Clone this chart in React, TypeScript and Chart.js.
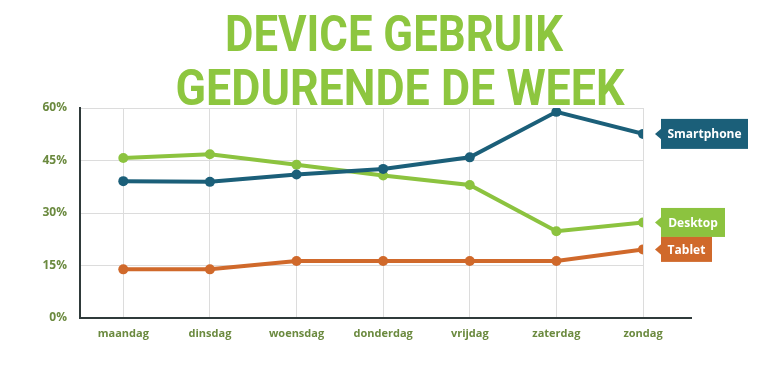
import React, { useEffect, useRef } from "react";
import { Chart, registerables } from "chart.js";

Chart.register(...registerables);

const titleLines = ["DEVICE GEBRUIK", "GEDURENDE DE WEEK"];
const days = ["maandag", "dinsdag", "woensdag", "donderdag", "vrijdag", "zaterdag", "zondag"];
const seriesNames = ["Smartphone", "Desktop", "Tablet"];
const smartphone = [39.1, 38.9, 41.0, 42.6, 45.9, 58.9, 52.6];
const desktop = [45.7, 46.8, 43.8, 40.7, 38.0, 24.8, 27.3];
const tablet = [13.9, 13.9, 16.3, 16.3, 16.3, 16.3, 19.6];
const yTicks = [0, 15, 30, 45, 60];

const COLORS = ["#1b5f79", "#8cc33f", "#d0692b"];
const BOX_W = [87, 64, 51];
const BOX_H = [30, 29, 25];
const LABEL_COLOR = "#6b8a3f";
const FONT = "'Open Sans', Roboto, sans-serif";

const decorPlugin = {
  id: "decor",
  afterDraw(chart: any) {
    const ctx = chart.ctx;
    const area = chart.chartArea;
    // title
    ctx.save();
    ctx.fillStyle = "#8dc63f";
    ctx.font = `bold 50px Roboto, sans-serif`;
    ctx.textBaseline = "alphabetic";
    ctx.textAlign = "left";
    const targets = [
      { w: 338, cx: 394, base: 51 },
      { w: 449, cx: 400, base: 105 },
    ];
    titleLines.forEach((t, i) => {
      const m = ctx.measureText(t).width;
      const sx = targets[i].w / m;
      ctx.save();
      ctx.translate(targets[i].cx - targets[i].w / 2, targets[i].base);
      ctx.scale(sx, 1);
      ctx.fillText(t, 0, 0);
      ctx.restore();
    });
    ctx.restore();

    // x axis extension
    ctx.save();
    ctx.strokeStyle = "#2f3a3a";
    ctx.lineWidth = 2;
    ctx.beginPath();
    ctx.moveTo(area.right - 1, area.bottom);
    ctx.lineTo(692, area.bottom);
    ctx.stroke();
    ctx.restore();

    // series labels
    chart.data.datasets.forEach((ds: any, i: number) => {
      const meta = chart.getDatasetMeta(i);
      const pt = meta.data[meta.data.length - 1];
      const left = pt.x + 18;
      const cy = pt.y;
      const h = BOX_H[i];
      const w = BOX_W[i];
      ctx.save();
      ctx.fillStyle = COLORS[i];
      ctx.fillRect(left, cy - h / 2, w, h);
      ctx.beginPath();
      ctx.moveTo(left + 1, cy - 6);
      ctx.lineTo(left - 6, cy);
      ctx.lineTo(left + 1, cy + 6);
      ctx.closePath();
      ctx.fill();
      ctx.fillStyle = "#ffffff";
      ctx.font = `bold 12px ${FONT}`;
      ctx.textAlign = "center";
      ctx.textBaseline = "middle";
      ctx.fillText(ds.label, left + w / 2, cy + 1);
      ctx.restore();
    });
  },
};

export default function App() {
  const ref = useRef<HTMLCanvasElement>(null);
  useEffect(() => {
    document.body.style.margin = "0";
    const seriesData = [smartphone, desktop, tablet];
    const chart = new Chart(ref.current!, {
      type: "line",
      data: {
        datasets: seriesData.map((arr, i) => ({
          label: seriesNames[i],
          data: arr.map((v, j) => ({ x: j, y: v })),
          borderColor: COLORS[i],
          backgroundColor: COLORS[i],
          pointBackgroundColor: COLORS[i],
          pointBorderColor: COLORS[i],
          borderWidth: 4,
          pointRadius: 5,
          pointBorderWidth: 0,
          tension: 0,
        })),
      },
      options: {
        animation: false,
        responsive: false,
        layout: { padding: { top: 108, right: 127, left: 0, bottom: 0 } },
        plugins: { legend: { display: false }, tooltip: { enabled: false }, title: { display: false } },
        scales: {
          x: {
            type: "linear",
            min: -0.5,
            max: 6,
            afterBuildTicks: (s: any) => {
              s.ticks = days.map((_, i) => ({ value: i }));
            },
            afterFit: (s: any) => {
              s.height = 48;
            },
            ticks: {
              padding: 9,
              color: LABEL_COLOR,
              font: { family: FONT, weight: "bold", size: 11 },
              callback: (v: any) => days[v] ?? "",
              maxRotation: 0,
              autoSkip: false,
            },
            grid: { color: "#dcdcdc", lineWidth: 1, drawTicks: false },
            border: { color: "#2f3a3a", width: 2 },
          },
          y: {
            min: 0,
            max: 60,
            afterBuildTicks: (s: any) => {
              s.ticks = yTicks.map((v) => ({ value: v }));
            },
            afterFit: (s: any) => {
              s.width = 80;
            },
            ticks: {
              padding: 13,
              color: LABEL_COLOR,
              font: { family: FONT, weight: "bold", size: 12 },
              callback: (v: any) => v + "%",
            },
            grid: { color: "#dcdcdc", lineWidth: 1, drawTicks: false },
            border: { color: "#2f3a3a", width: 2 },
          },
        },
      },
      plugins: [decorPlugin],
    });
    return () => chart.destroy();
  }, []);
  return (
    <div style={{ width: 770, height: 366, background: "#fff" }}>
      <canvas ref={ref} width={770} height={366} />
    </div>
  );
}
